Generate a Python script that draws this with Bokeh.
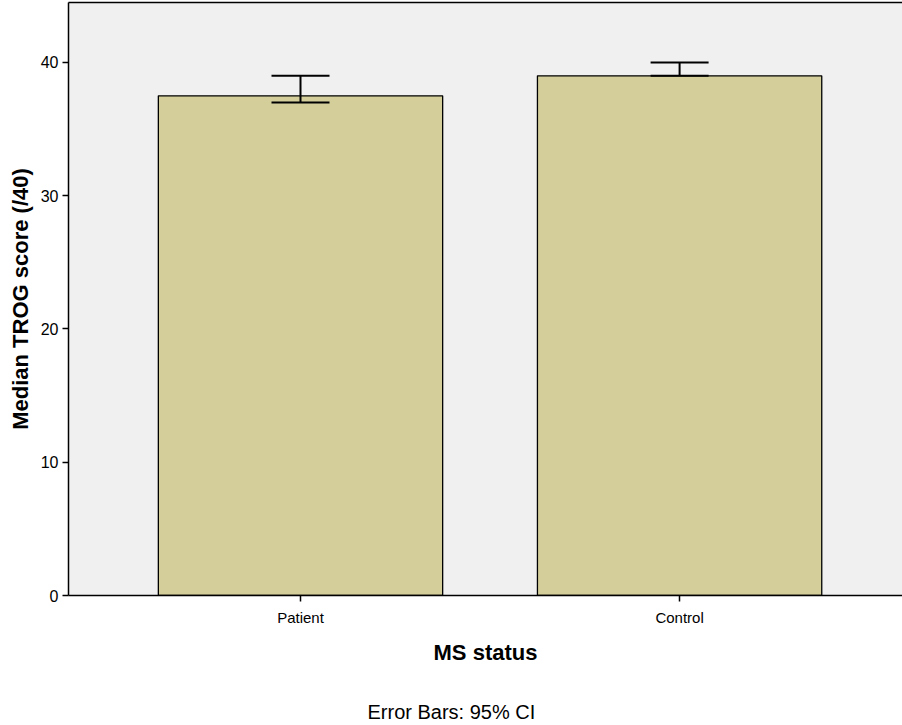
from bokeh.plotting import figure
from bokeh.models import (ColumnDataSource, FixedTicker, Whisker, TeeHead, Range1d,
                          LinearAxis, Title)
from bokeh.embed import file_html
from bokeh.resources import INLINE

categories = ["Patient", "Control"]
medians = [37.5, 39.0]
ci_lower = [37.0, 39.0]
ci_upper = [39.0, 40.0]
y_ticks = [0, 10, 20, 30, 40]

xs = list(range(len(categories)))
src = ColumnDataSource(dict(x=xs, top=medians, lower=ci_lower, upper=ci_upper))

FONT = "Liberation Sans"

p = figure(width=902, height=725, output_backend="svg", toolbar_location=None,
           x_range=Range1d(-0.612, 1.588), y_range=Range1d(0, 44.5),
           min_border_left=68, min_border_top=2, min_border_right=0, min_border_bottom=0)

p.background_fill_color = "#f0f0f0"
p.border_fill_color = "white"
p.outline_line_color = None
p.grid.visible = False

p.vbar(x="x", top="top", bottom=0, width=0.75, source=src,
       fill_color="#d3ce9a", line_color="black", line_width=1.3)

w = Whisker(base="x", lower="lower", upper="upper", source=src,
            line_color="black", line_width=2, level="overlay",
            upper_head=TeeHead(size=58, line_color="black", line_width=2),
            lower_head=TeeHead(size=58, line_color="black", line_width=2))
p.add_layout(w)

# y axis
ya = p.yaxis[0]
ya.ticker = FixedTicker(ticks=y_ticks)
ya.minor_tick_line_color = None
ya.major_tick_out = 6
ya.major_tick_in = 0
ya.major_tick_line_width = 1.5
ya.axis_line_width = 1.5
ya.major_label_text_font = FONT
ya.major_label_text_font_size = "16px"
ya.major_label_text_color = "black"
ya.major_label_standoff = 4
ya.axis_label = "Median TROG score (/40)"
ya.axis_label_text_font = FONT
ya.axis_label_text_font_size = "22px"
ya.axis_label_text_font_style = "bold"
ya.axis_label_text_color = "black"
ya.axis_label_standoff = 5

# x axis
xa = p.xaxis[0]
xa.ticker = FixedTicker(ticks=xs)
xa.major_label_overrides = {i: c for i, c in enumerate(categories)}
xa.minor_tick_line_color = None
xa.major_tick_out = 6
xa.major_tick_in = 0
xa.major_tick_line_width = 1.5
xa.axis_line_width = 1.5
xa.major_label_text_font = FONT
xa.major_label_text_font_size = "15px"
xa.major_label_text_color = "black"
xa.major_label_standoff = 7
xa.axis_label = "MS status"
xa.axis_label_text_font = FONT
xa.axis_label_text_font_size = "22px"
xa.axis_label_text_font_style = "bold"
xa.axis_label_text_color = "black"
xa.axis_label_standoff = 11

# top border line
top_ax = LinearAxis(ticker=FixedTicker(ticks=[]), major_label_text_font_size="0px",
                    major_tick_line_color=None, minor_tick_line_color=None,
                    axis_line_width=1.5)
p.add_layout(top_ax, "above")

spacer = Title(text=" ", text_font=FONT, text_font_size="10px", standoff=15)
p.add_layout(spacer, "below")

note = Title(text="Error Bars: 95% CI", align="left", offset=299,
             text_font=FONT, text_font_size="20px", text_font_style="normal",
             text_color="black", standoff=6)
p.add_layout(note, "below")

open("out.html", "w").write(file_html(p, INLINE))
